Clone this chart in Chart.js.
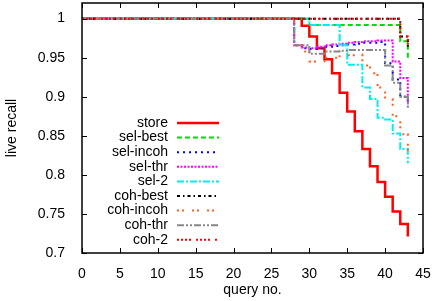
<!DOCTYPE html>
<html>
<head>
<meta charset="utf-8">
<script src="https://cdn.jsdelivr.net/npm/chart.js@4.4.0/dist/chart.umd.min.js"></script>
<style>
html, body { margin: 0; padding: 0; background: #fff; }
</style>
</head>
<body>
<canvas id="chart" width="433" height="301"></canvas>
<script>
// query numbers (x)
const queries = [0, 1, 2, 3, 4, 5, 6, 7, 8, 9, 10, 11, 12, 13, 14, 15, 16, 17, 18, 19, 20, 21,
    22, 23, 24, 25, 26, 27, 28, 29, 30, 31, 32, 33, 34, 35, 36, 37, 38, 39, 40, 41, 42, 43];

// live recall per query, one array per method
const store = [1, 1, 1, 1, 1, 1, 1, 1, 1, 1, 1, 1, 1, 1, 1, 1, 1, 1, 1, 1, 1, 1, 1, 1, 1, 1, 1, 1,
    1, 0.991, 0.977, 0.962, 0.948, 0.930, 0.905, 0.881, 0.856, 0.833, 0.811, 0.791, 0.772, 0.753, 0.737, 0.721];
const selBest = [1, 1, 1, 1, 1, 1, 1, 1, 1, 1, 1, 1, 1, 1, 1, 1, 1, 1, 1, 1, 1, 1, 1, 1, 1, 1, 1, 1,
    1, 1, 0.992, 0.992, 0.992, 0.992, 0.992, 0.992, 0.992, 0.992, 0.992, 0.992, 0.992, 0.992, 0.971, 0.949];
const selIncoh = [1, 1, 1, 1, 1, 1, 1, 1, 1, 1, 1, 1, 1, 1, 1, 1, 1, 1, 1, 1, 1, 1, 1, 1, 1, 1, 1, 1,
    0.966, 0.962, 0.961, 0.962, 0.964, 0.965, 0.966, 0.967, 0.968, 0.969, 0.969, 0.970, 0.943, 0.922, 0.900, 0.889];
const selThr = [1, 1, 1, 1, 1, 1, 1, 1, 1, 1, 1, 1, 1, 1, 1, 1, 1, 1, 1, 1, 1, 1, 1, 1, 1, 1, 1, 1,
    0.966, 0.963, 0.962, 0.964, 0.966, 0.967, 0.968, 0.969, 0.970, 0.971, 0.971, 0.972, 0.972, 0.945, 0.924, 0.893];
const sel2 = [1, 1, 1, 1, 1, 1, 1, 1, 1, 1, 1, 1, 1, 1, 1, 1, 1, 1, 1, 1, 1, 1, 1, 1, 1, 1, 1, 1,
    1, 1, 0.992, 0.992, 0.992, 0.992, 0.966, 0.941, 0.941, 0.912, 0.897, 0.873, 0.871, 0.853, 0.833, 0.815];
const cohBest = [1, 1, 1, 1, 1, 1, 1, 1, 1, 1, 1, 1, 1, 1, 1, 1, 1, 1, 1, 1, 1, 1, 1, 1, 1, 1, 1, 1,
    1, 1, 1, 1, 1, 1, 1, 1, 1, 1, 1, 1, 1, 1, 0.977, 0.962];
const cohIncoh = [1, 1, 1, 1, 1, 1, 1, 1, 1, 1, 1, 1, 1, 1, 1, 1, 1, 1, 1, 1, 1, 1, 1, 1, 1, 1, 1, 1,
    0.966, 0.958, 0.945, 0.945, 0.950, 0.950, 0.952, 0.953, 0.954, 0.940, 0.930, 0.912, 0.897, 0.875, 0.852, 0.825];
const cohThr = [1, 1, 1, 1, 1, 1, 1, 1, 1, 1, 1, 1, 1, 1, 1, 1, 1, 1, 1, 1, 1, 1, 1, 1, 1, 1, 1, 1,
    0.966, 0.966, 0.955, 0.955, 0.958, 0.958, 0.959, 0.960, 0.960, 0.960, 0.960, 0.960, 0.940, 0.918, 0.900, 0.886];
const coh2 = [1, 1, 1, 1, 1, 1, 1, 1, 1, 1, 1, 1, 1, 1, 1, 1, 1, 1, 1, 1, 1, 1, 1, 1, 1, 1, 1, 1,
    1, 1, 1, 1, 1, 1, 1, 1, 1, 1, 1, 1, 1, 1, 0.977, 0.965];

const seriesNames = ['store', 'sel-best', 'sel-incoh', 'sel-thr', 'sel-2', 'coh-best', 'coh-incoh', 'coh-thr', 'coh-2'];
const seriesValues = [store, selBest, selIncoh, selThr, sel2, cohBest, cohIncoh, cohThr, coh2];

// gnuplot-ish line styles
const lineStyles = [
    { color: '#ff0000', dash: [], width: 2.5 },
    { color: '#00dd00', dash: [5, 3], width: 2 },
    { color: '#0000ff', dash: [2, 4], width: 2 },
    { color: '#ff00ff', dash: [2, 1.5], width: 2 },
    { color: '#00eeee', dash: [7, 2, 2, 2], width: 2 },
    { color: '#000000', dash: [3, 3, 1.5, 3], width: 2 },
    { color: '#ff6020', dash: [2, 3, 2, 8], width: 2 },
    { color: '#888888', dash: [7, 2, 2, 2, 2, 2], width: 2 },
    { color: '#ff0000', dash: [2, 2, 2, 2, 2, 2, 2, 5], width: 2 }
];

const FONT = { family: 'Liberation Sans, Arial, sans-serif', size: 14 };

const datasets = seriesNames.map((name, i) => ({
    label: name,
    data: queries.map((q, k) => ({ x: q, y: seriesValues[i][k] })),
    borderColor: lineStyles[i].color,
    borderDash: lineStyles[i].dash,
    borderWidth: lineStyles[i].width,
    stepped: true,
    fill: false,
    pointRadius: 0,
    order: seriesNames.length - i // later series on top, like gnuplot
}));

// Rahmen, Ticks nach innen und Legende im gnuplot-Stil
const gnuplotFrame = {
    id: 'gnuplotFrame',
    afterDraw(chart) {
        const { ctx, chartArea: a, scales: { x, y } } = chart;
        const tl = 5;
        ctx.save();
        ctx.strokeStyle = '#000';
        ctx.lineWidth = 1;
        ctx.beginPath();
        x.ticks.forEach(t => {
            const px = Math.round(x.getPixelForValue(t.value)) + 0.5;
            ctx.moveTo(px, a.bottom); ctx.lineTo(px, a.bottom - tl);
            ctx.moveTo(px, a.top); ctx.lineTo(px, a.top + tl);
        });
        y.ticks.forEach(t => {
            const py = Math.round(y.getPixelForValue(t.value)) + 0.5;
            ctx.moveTo(a.left, py); ctx.lineTo(a.left + tl, py);
            ctx.moveTo(a.right, py); ctx.lineTo(a.right - tl, py);
        });
        ctx.stroke();
        ctx.lineWidth = 1.5;
        ctx.strokeRect(a.left, a.top, a.right - a.left, a.bottom - a.top);

        // legend
        ctx.font = FONT.size + 'px ' + FONT.family;
        ctx.textAlign = 'right';
        ctx.textBaseline = 'middle';
        chart.data.datasets.forEach((ds, i) => {
            const ly = 123 + i * 14.6;
            ctx.fillStyle = '#000';
            ctx.fillText(ds.label, 168, ly);
            ctx.beginPath();
            ctx.setLineDash(ds.borderDash);
            ctx.strokeStyle = ds.borderColor;
            ctx.lineWidth = ds.borderWidth;
            ctx.moveTo(177, ly);
            ctx.lineTo(219, ly);
            ctx.stroke();
            ctx.setLineDash([]);
        });
        ctx.restore();
    }
};

new Chart(document.getElementById('chart'), {
    type: 'line',
    data: { datasets: datasets },
    plugins: [gnuplotFrame],
    options: {
        responsive: false,
        animation: false,
        devicePixelRatio: 1,
        layout: { padding: { top: 3, right: 10, left: 0, bottom: 0 } },
        plugins: {
            legend: { display: false },
            tooltip: { enabled: false }
        },
        scales: {
            x: {
                type: 'linear',
                min: 0,
                max: 45,
                ticks: { stepSize: 5, color: '#000', font: FONT, padding: 5, maxRotation: 0 },
                grid: { display: false },
                border: { display: false },
                title: { display: true, text: 'query no.', color: '#000', font: FONT, padding: { top: 0, bottom: 2 } },
                afterFit(s) {
                    s.height = 48;
                    s.paddingLeft = 0;
                    s.paddingRight = 0;
                }
            },
            y: {
                type: 'linear',
                min: 0.7,
                max: 1.02,
                ticks: {
                    stepSize: 0.05,
                    includeBounds: false,
                    color: '#000',
                    font: FONT,
                    padding: 9,
                    callback: v => String(+v.toFixed(2))
                },
                grid: { display: false },
                border: { display: false },
                title: { display: true, text: 'live recall', color: '#000', font: FONT, padding: { top: 4, bottom: 0 } },
                afterFit(s) {
                    s.width = 82;
                    s.paddingTop = 0;
                    s.paddingBottom = 0;
                }
            }
        }
    }
});
</script>
</body>
</html>
